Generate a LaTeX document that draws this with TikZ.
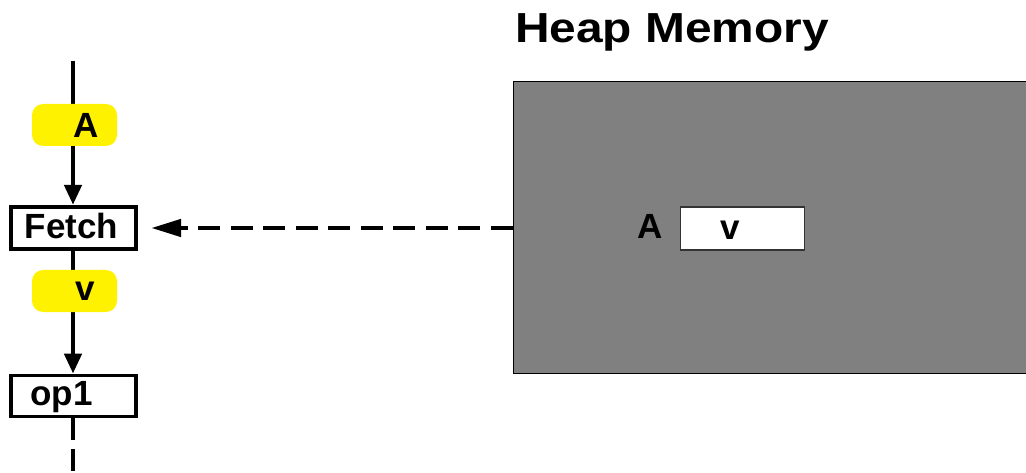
\documentclass[tikz,border=0pt]{standalone}
\usepackage{fontspec}
\setmainfont{Liberation Sans}
\usetikzlibrary{arrows.meta}
\pgfdeclarelayer{background}
\pgfsetlayers{background,main}
\begin{document}
\begin{tikzpicture}[x=1pt,y=-1pt,
  lbl/.style={font=\fontsize{35}{40}\selectfont\bfseries, inner sep=0pt, anchor=base},
  opbox/.style={draw=black, line width=3.8pt, fill=white, inner sep=0pt},
  token/.style={fill=yellow, rounded corners=11pt, inner sep=0pt, minimum width=85pt, minimum height=42pt},
  flow/.style={line width=4.6pt, -{Triangle[length=20pt,width=17pt]}},
  fetcharrow/.style={line width=4.6pt, dash pattern=on 22pt off 10.5pt, -{Triangle[length=30pt,width=17pt]}}]
\useasboundingbox (0,0) rectangle (1026,473);

% heap region
\node[draw=black, line width=1.2pt, fill=black!50, minimum width=514pt, minimum height=292pt, inner sep=0pt, anchor=north west] (heap) at (512.5,81) {};
\node[font=\fontsize{42}{48}\selectfont\bfseries, inner sep=0pt, anchor=base] (title) at (672,43) {\scalebox{1.14}[1]{Heap Memory}};
\node[draw=black!80, line width=1.2pt, fill=white, minimum width=124pt, minimum height=43pt, inner sep=0pt] (cell) at (742.5,228.5) {};
\node[lbl] (cellv) at (730.5,240) {v};
\node[lbl] (addr) at (650.5,239) {A};

% dataflow chain
\coordinate (top) at (73,61);
\node[opbox, minimum width=125.5pt, minimum height=42.5pt] (fetch) at (73.5,228) {};
\node[lbl] (fetchtxt) at (71.5,238.5) {Fetch};
\node[token] (tokA) at (74.5,125) {};
\node[lbl] (tokAtxt) at (86.5,138) {A};
\node[token] (tokV) at (74.5,291) {};
\node[lbl] (tokVtxt) at (85.5,301) {v};
\node[opbox, minimum width=125.5pt, minimum height=41pt] (op1) at (73.5,396) {};
\node[lbl] (op1txt) at (61.5,405) {op1};
\coordinate (bottom) at (73,473);

% flow lines run behind the tokens
\begin{pgfonlayer}{background}
\draw[flow] (top) -- (top |- fetch.north);
\draw[flow] (fetch.south -| top) -- (op1.north -| top);
\draw[line width=4.6pt, dash pattern=on 22pt off 9pt] (op1.south -| top) -- (bottom);
\end{pgfonlayer}
\draw[fetcharrow] (heap.west |- fetch) -- ([xshift=13pt]fetch.east);
\end{tikzpicture}
\end{document}
